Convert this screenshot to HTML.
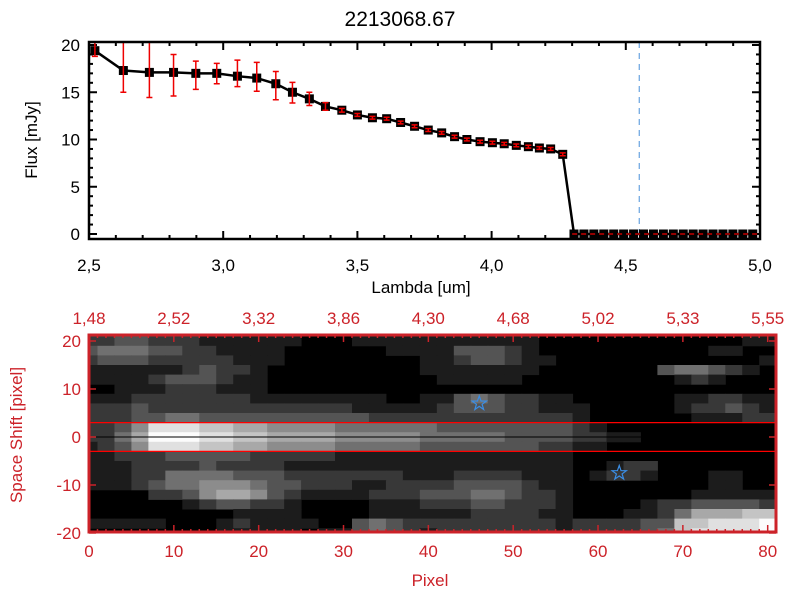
<!DOCTYPE html>
<html><head><meta charset="utf-8"><style>
body{margin:0;background:#fff}
svg{display:block}
text{font-family:"Liberation Sans",sans-serif}
</style></head><body>
<svg id="c" width="800" height="600" viewBox="0 0 800 600"></svg>
<script>
const lambdas=[2.522,2.628,2.725,2.815,2.898,2.976,3.053,3.125,3.196,3.258,3.321,3.381,3.442,3.500,3.556,3.609,3.661,3.713,3.764,3.814,3.862,3.908,3.957,4.003,4.047,4.092,4.137,4.178,4.220,4.265,4.307,4.344,4.381,4.418,4.455,4.492,4.529,4.566,4.603,4.640,4.677,4.714,4.751,4.788,4.825,4.862,4.899,4.936,4.973];
const flux=[19.4,17.3,17.1,17.1,17.0,17.0,16.7,16.5,15.9,15.0,14.3,13.5,13.1,12.6,12.3,12.2,11.8,11.4,11.0,10.7,10.3,10.0,9.77,9.66,9.55,9.38,9.24,9.1,9.0,8.43,0,0,0,0,0,0,0,0,0,0,0,0,0,0,0,0,0,0,0];
const errHi=[1.0,3.2,3.2,1.9,1.3,1.05,1.7,1.66,1.3,1.05,0.7,0.4,0.2,0.15,0.15,0.15,0.15,0.15,0.15,0.15,0.15,0.15,0.15,0.15,0.15,0.15,0.15,0.15,0.15,0.15];
const errLo=[0.6,2.3,2.65,2.5,1.7,1.1,1.1,1.4,1.7,1.14,0.7,0.4,0.2,0.15,0.15,0.15,0.15,0.15,0.15,0.15,0.15,0.15,0.15,0.15,0.15,0.15,0.15,0.15,0.15,0.15];
const xTicksTop=[2.5,3.0,3.5,4.0,4.5,5.0];
const xTickLabelsTop=["2,5","3,0","3,5","4,0","4,5","5,0"];
const yTicksTop=[0,5,10,15,20];
const cutLambda=4.55;
const imgRows=[
["22332","22111111","00011111","11111100","000000000011"],
["34443","32211110","00000111","13332100","000000001100"],
["23332","22221110","00000001","12332110","000000000001"],
["11111","12322100","00000001","11111100","000003443210"],
["11112","33321100","00000000","11111000","000000121000"],
["00111","22211100","00000000","00000000","000000000000"],
["11122","22222111","11111001","13432211","000000112211"],
["22232","22222222","22211111","23332211","100000122321"],
["22233","44333333","33332222","22222222","100000011122"],
["22358","88776655","55444444","33333333","210000000000"],
["22469","99887766","66555554","44443333","221100000000"],
["12358","88776655","55444443","33333322","110000000000"],
["11222","33333222","22111111","11111111","000000000000"],
["11122","22322221","11111111","11111111","001220000000"],
["11122","44443332","22222211","12222111","012210001100"],
["11123","44555433","22211222","23333211","000000001100"],
["00002","23566532","11112223","33443221","000000011111"],
["00000","01233221","00001112","22332221","000012233332"],
["00000","00001111","00001111","11222211","000112466677"],
["11111","00012111","10034322","22222221","222233778889"],
["00000","00011111","01134321","22222221","222234788889"]];
const pxTicks=[0,10,20,30,40,50,60,70,80];
const pxTopLabels=["1,48","2,52","3,32","3,86","4,30","4,68","5,02","5,33","5,55"];
const shiftTicks=[-20,-10,0,10,20];
const apertureHalf=3;
const stars=[[46,7],[62.5,-7.5]];

const NS="http://www.w3.org/2000/svg";
const svg=document.getElementById('c');
function mk(tag,attrs,parent,text){const e=document.createElementNS(NS,tag);for(const k in attrs)e.setAttribute(k,attrs[k]);if(text!==undefined)e.textContent=text;(parent||svg).appendChild(e);return e;}

// ---- top panel
const L=89,R=760,T=42,B=239;
const x1=v=>L+(v-2.5)*(R-L)/2.5;
const y1=v=>234-v*9.45;
let g=mk('g',{});

let t=mk('text',{x:400,y:26,'text-anchor':'middle','font-size':21},g,'2213068.67');

for(let v=2.5;v<=5.0001;v+=0.1){const X=x1(v);const maj=Math.abs(v*2-Math.round(v*2))<1e-6;const len=maj?8:4;
 mk('line',{x1:X,y1:B,x2:X,y2:B-len,stroke:'#000','stroke-width':2},g);mk('line',{x1:X,y1:T,x2:X,y2:T+len,stroke:'#000','stroke-width':2},g);}
for(let v=0;v<=20;v++){const Y=y1(v);const len=v%5==0?8:4;
 mk('line',{x1:L,y1:Y,x2:L+len,y2:Y,stroke:'#000','stroke-width':2},g);mk('line',{x1:R,y1:Y,x2:R-len,y2:Y,stroke:'#000','stroke-width':2},g);}
xTicksTop.forEach((v,i)=>{const e=mk('text',{x:x1(v),y:271,'text-anchor':'middle','font-size':17},g,xTickLabelsTop[i]);
 });
yTicksTop.forEach(v=>{const e=mk('text',{x:80,y:y1(v)+6,'text-anchor':'end','font-size':17},g,String(v));
 });
t=mk('text',{x:421,y:293,'text-anchor':'middle','font-size':17},g,'Lambda [um]');

t=mk('text',{x:0,y:0,'text-anchor':'middle','font-size':17,transform:'translate(37,140) rotate(-90)'},g,'Flux [mJy]');

let ln=mk('line',{x1:x1(cutLambda),y1:T,x2:x1(cutLambda),y2:B,stroke:'#4a90d9','stroke-width':1,'stroke-dasharray':'6,5'},g);

let pts=lambdas.map((l,i)=>x1(l)+','+y1(flux[i])).join(' ');
ln=mk('polyline',{points:pts,fill:'none',stroke:'#000','stroke-width':2.5},g);

lambdas.forEach((l,i)=>{const X=x1(l),Y=y1(flux[i]);
 const r=mk('rect',{x:X-4.5,y:Y-4.5,width:9,height:9,fill:'#000'},g);
 
 if(i<errHi.length){const yh=Math.max(T,y1(flux[i]+errHi[i])),yl=y1(flux[i]-errLo[i]);
  const eb=mk('path',{d:`M${X},${yh}V${yl}M${X-3},${yh}H${X+3}M${X-3},${yl}H${X+3}`,stroke:'#e00',fill:'none','stroke-width':1.5},g);
  }});
ln=mk('line',{x1:x1(4.3),y1:y1(0),x2:R,y2:y1(0),stroke:'#e00','stroke-width':1.2,'stroke-dasharray':'5,4'},g);

let fr=mk('rect',{x:L,y:T,width:R-L,height:B-T,fill:'none',stroke:'#000','stroke-width':2.5},g);


// ---- bottom panel
const L2=89,R2=776,T2=335,B2=532;
const PXU=(767.7-89)/80;
const x2=v=>L2+v*PXU;
const y2=v=>437-v*4.8;
const RED='#cc2229';
let g2=mk('g',{});

mk('clipPath',{id:'cp'},g2);
mk('rect',{x:L2,y:T2,width:R2-L2,height:B2-T2},g2.lastChild);
let ig=mk('g',{'clip-path':'url(#cp)'},g2);

mk('rect',{x:L2,y:T2,width:R2-L2,height:B2-T2,fill:'#000'},ig);
imgRows.forEach((parts,r)=>{const row=parts.join('');const yc=20-2*r;
 for(let c=0;c<41;c++){const v=+(row[c]||0);if(!v)continue;const xc=2*c;const gv=Math.round(v*28);
  const cell=mk('rect',{x:x2(xc-1),y:y2(yc+1),width:2*PXU+0.5,height:2*4.8+0.5,fill:`rgb(${gv},${gv},${gv})`},ig);
  }});
[apertureHalf,-apertureHalf].forEach(a=>{const l=mk('line',{x1:L2,y1:y2(a),x2:R2,y2:y2(a),stroke:'#f00','stroke-width':1.3},ig);
 });
ln=mk('line',{x1:L2,y1:y2(0),x2:R2,y2:y2(0),stroke:'#000','stroke-width':1},ig);

stars.forEach(s=>{const X=x2(s[0]),Y=y2(s[1]);let d='';for(let k=0;k<10;k++){const ang=-Math.PI/2+k*Math.PI/5;const rr=k%2?3:7.5;d+=(k?'L':'M')+(X+rr*Math.cos(ang))+','+(Y+rr*Math.sin(ang));}
 const st=mk('path',{d:d+'Z',fill:'none',stroke:'#3a8ee6','stroke-width':1.2},ig);
 });
for(let v=0;v<=81;v++){const X=x2(v);const len=v%10==0?7:3;
 mk('line',{x1:X,y1:B2,x2:X,y2:B2-len,stroke:RED,'stroke-width':1.5},g2);mk('line',{x1:X,y1:T2,x2:X,y2:T2+len,stroke:RED,'stroke-width':1.5},g2);}
shiftTicks.forEach(v=>{const Y=y2(v);
 mk('line',{x1:L2,y1:Y,x2:L2+7,y2:Y,stroke:RED,'stroke-width':1.5},g2);mk('line',{x1:R2,y1:Y,x2:R2-7,y2:Y,stroke:RED,'stroke-width':1.5},g2);
 const e=mk('text',{x:81,y:Y+6,'text-anchor':'end','font-size':17,fill:RED},g2,String(v));
 });
pxTicks.forEach((v,i)=>{let e=mk('text',{x:x2(v),y:557,'text-anchor':'middle','font-size':17,fill:RED},g2,String(v));
 
 e=mk('text',{x:x2(v),y:324,'text-anchor':'middle','font-size':17,fill:RED},g2,pxTopLabels[i]);
 });
t=mk('text',{x:430,y:586,'text-anchor':'middle','font-size':17,fill:RED},g2,'Pixel');

t=mk('text',{x:0,y:0,'text-anchor':'middle','font-size':17,fill:RED,transform:'translate(22,435) rotate(-90)'},g2,'Space Shift [pixel]');

fr=mk('rect',{x:L2,y:T2,width:R2-L2,height:B2-T2,fill:'none',stroke:RED,'stroke-width':3},g2);

</script>
</body></html>
